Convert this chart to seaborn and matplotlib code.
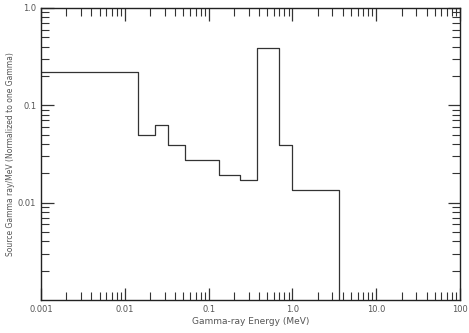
import matplotlib
matplotlib.use("Agg")
import matplotlib.pyplot as plt
import matplotlib.ticker as mticker
import seaborn as sns
import pandas as pd
import numpy as np

# Bin edges (MeV) and normalized source intensity per bin
bin_edges = [0.001, 0.0144, 0.023, 0.033, 0.052, 0.133, 0.237, 0.379, 0.69, 1.0, 3.6]
bin_values = [0.22, 0.0495, 0.063, 0.039, 0.0274, 0.0192, 0.017, 0.388, 0.039, 0.0135]
floor_value = 1e-5

x_ticks = [0.001, 0.01, 0.1, 1.0, 10.0, 100]
x_tick_labels = ["0.001", "0.01", "0.1", "1.0", "10.0", "100"]
y_ticks = [0.01, 0.1, 1.0]
y_tick_labels = ["0.01", "0.1", "1.0"]

sns.set_theme(style="white")
plt.rcParams['font.family'] = ['DejaVu Sans']

xs = list(bin_edges) + [bin_edges[-1]]
ys = list(bin_values) + [bin_values[-1], floor_value]
df = pd.DataFrame({"energy": xs, "value": ys, "order": range(len(xs))})

fig = plt.figure(figsize=(4.69, 3.33), dpi=100)
ax = fig.add_axes([0.0874, 0.099, 0.8936, 0.877])

sns.lineplot(data=df, x="energy", y="value", sort=False, estimator=None,
             drawstyle="steps-post", color="#333333", linewidth=0.9, ax=ax)

ax.set_xscale("log")
ax.set_yscale("log")
ax.set_xlim(0.001, 100)
ax.set_ylim(0.001, 1.0)

ax.set_xticks(x_ticks)
ax.set_xticklabels(x_tick_labels)
ax.set_yticks(y_ticks)
ax.set_yticklabels(y_tick_labels)
ax.xaxis.set_minor_locator(mticker.LogLocator(base=10, subs=np.arange(2, 10)))
ax.yaxis.set_minor_locator(mticker.LogLocator(base=10, subs=np.arange(2, 10)))
ax.xaxis.set_minor_formatter(mticker.NullFormatter())
ax.yaxis.set_minor_formatter(mticker.NullFormatter())

ax.tick_params(which="both", direction="in", top=True, right=True,
               bottom=True, left=True, colors="#333333", labelcolor="#555555",
               labelsize=6)
ax.tick_params(which="major", length=9, width=0.9)
ax.tick_params(which="minor", length=6, width=0.8)

for s in ax.spines.values():
    s.set_color("#222222")
    s.set_linewidth(1.0)

ax.set_xlabel("Gamma-ray Energy (MeV)", fontsize=6.5, color="#555555", labelpad=2)
ax.set_ylabel("Source Gamma ray/MeV (Normalized to one Gamma)", fontsize=5.5,
              color="#555555", labelpad=2)

fig.savefig("out.png", dpi=100)
